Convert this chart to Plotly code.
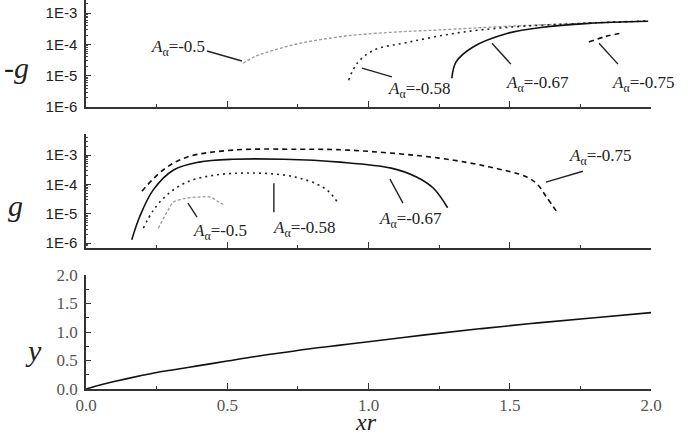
import plotly.graph_objects as go

# ---------------- data ----------------
# top panel: -g (log)
top_x_05 = [0.556, 0.60, 0.64, 0.75, 0.92, 1.10, 1.25, 1.49, 1.75, 1.99]
top_v_05 = [2.5e-5, 4.2e-5, 5.6e-5, 1.05e-4, 1.86e-4, 2.5e-4, 2.9e-4, 3.8e-4, 4.7e-4, 5.6e-4]
top_x_058 = [0.93, 0.96, 1.02, 1.14, 1.31, 1.49, 1.75, 1.99]
top_v_058 = [7.2e-6, 2.5e-5, 6.6e-5, 1.17e-4, 2.3e-4, 3.5e-4, 4.7e-4, 5.6e-4]
top_x_067 = [1.295, 1.31, 1.37, 1.49, 1.61, 1.78, 1.99]
top_v_067 = [8.3e-6, 2.75e-5, 8.3e-5, 2.24e-4, 3.47e-4, 4.7e-4, 5.5e-4]
top_x_075 = [1.78, 1.84, 1.90]
top_v_075 = [1.2e-4, 1.8e-4, 2.35e-4]

# middle panel: g (log)
mid_x_05 = [0.256, 0.29, 0.31, 0.357, 0.40, 0.44, 0.47, 0.49]
mid_v_05 = [3.2e-6, 1.3e-5, 2.5e-5, 3.4e-5, 3.7e-5, 3.7e-5, 2.5e-5, 2.0e-5]
mid_x_058 = [0.203, 0.238, 0.286, 0.357, 0.46, 0.58, 0.70, 0.76, 0.82, 0.86, 0.89]
mid_v_058 = [3.2e-6, 1.3e-5, 4.3e-5, 1.2e-4, 2.1e-4, 2.45e-4, 2.1e-4, 1.6e-4, 1.0e-4, 5.6e-5, 2.5e-5]
mid_x_067 = [0.162, 0.19, 0.238, 0.31, 0.40, 0.52, 0.70, 0.90, 1.08, 1.17, 1.23, 1.28]
mid_v_067 = [1.3e-6, 7.9e-6, 6.5e-5, 3.1e-4, 5.75e-4, 7.2e-4, 7.2e-4, 5.75e-4, 3.6e-4, 1.8e-4, 7.4e-5, 1.6e-5]
mid_x_075 = [0.198, 0.273, 0.357, 0.52, 0.76, 0.93, 1.25, 1.43, 1.56, 1.60, 1.63, 1.67]
mid_v_075 = [5.9e-5, 3.1e-4, 8.5e-4, 1.48e-3, 1.58e-3, 1.48e-3, 7.9e-4, 3.9e-4, 1.8e-4, 9.5e-5, 3.7e-5, 1.05e-5]

# bottom panel: y (linear)
bot_x = [0, 0.05, 0.1, 0.2, 0.25, 0.3, 0.4, 0.5, 0.6, 0.7, 0.8, 0.9, 1.0, 1.2, 1.4, 1.6, 1.8, 2.0]
bot_y = [0, 0.07, 0.13, 0.24, 0.29, 0.33, 0.41, 0.49, 0.57, 0.64, 0.71, 0.77, 0.83, 0.95, 1.06, 1.16, 1.25, 1.34]

log_ticks = [1e-6, 1e-5, 1e-4, 1e-3]
log_tick_text = ["1E-6", "1E-5", "1E-4", "1E-3"]
lin_ticks = [0.0, 0.5, 1.0, 1.5, 2.0]
lin_tick_text = ["0.0", "0.5", "1.0", "1.5", "2.0"]

labels = ["-0.5", "-0.58", "-0.67", "-0.75"]

# annotation positions (x, log10 y) for labels and leader lines
top_lbl = [(0.325, -4.12), (1.18, -5.45), (1.597, -5.28), (1.975, -5.28)]
top_lead = [((0.428, -4.21), (0.552, -4.53)), ((0.977, -4.76), (1.083, -5.04)),
            ((1.437, -3.96), (1.504, -4.63)), ((1.816, -3.96), (1.883, -4.63))]
mid_lbl = [(0.474, -5.62), (0.772, -5.52), (1.150, -5.2), (1.82, -3.05)]
mid_lead = [((0.361, -4.64), (0.393, -5.12)), ((0.665, -3.96), (0.665, -4.95)),
            ((1.076, -3.82), (1.122, -4.64)), ((1.628, -3.92), (1.759, -3.55))]

# ---------------- figure ----------------
fig = go.Figure()

styles = [dict(color="#9a9a9a", width=1.3, dash="3px,2px"),
          dict(color="#222", width=1.6, dash="2px,4px"),
          dict(color="#111", width=1.6),
          dict(color="#111", width=1.6, dash="5px,4px")]

tops = [(top_x_05, top_v_05), (top_x_058, top_v_058), (top_x_067, top_v_067), (top_x_075, top_v_075)]
mids = [(mid_x_05, mid_v_05), (mid_x_058, mid_v_058), (mid_x_067, mid_v_067), (mid_x_075, mid_v_075)]

for (xs, vs), st in zip(tops, styles):
    fig.add_trace(go.Scatter(x=xs, y=vs, mode="lines", line=dict(shape="spline", **st),
                             xaxis="x", yaxis="y", showlegend=False))
for (xs, vs), st in zip(mids, styles):
    fig.add_trace(go.Scatter(x=xs, y=vs, mode="lines", line=dict(shape="spline", **st),
                             xaxis="x2", yaxis="y2", showlegend=False))
fig.add_trace(go.Scatter(x=bot_x, y=bot_y, mode="lines", line=dict(color="#111", width=1.6, shape="spline"),
                         xaxis="x3", yaxis="y3", showlegend=False))

# leader lines
for (p0, p1) in top_lead:
    fig.add_trace(go.Scatter(x=[p0[0], p1[0]], y=[10 ** p0[1], 10 ** p1[1]], mode="lines",
                             line=dict(color="#222", width=1.4), xaxis="x", yaxis="y", showlegend=False))
for (p0, p1) in mid_lead:
    fig.add_trace(go.Scatter(x=[p0[0], p1[0]], y=[10 ** p0[1], 10 ** p1[1]], mode="lines",
                             line=dict(color="#222", width=1.4), xaxis="x2", yaxis="y2", showlegend=False))

serif = "Liberation Serif, serif"
sans = "Liberation Sans, sans-serif"
ann = []
for (x, ly), lab in zip(top_lbl, labels):
    ann.append(dict(x=x, y=ly, xref="x", yref="y", showarrow=False, xanchor="center", yanchor="middle",
                    text=f"<i>A</i><sub>α</sub>={lab}", font=dict(family=serif, size=17, color="#222")))
for (x, ly), lab in zip(mid_lbl, labels):
    ann.append(dict(x=x, y=ly, xref="x2", yref="y2", showarrow=False, xanchor="center", yanchor="middle",
                    text=f"<i>A</i><sub>α</sub>={lab}", font=dict(family=serif, size=17, color="#222")))

# axis titles
W, H, L, R, T, B = 692, 435, 86, 41, 0, 46
pw, ph = W - L - R, H - T - B
def px(xp):
    return (xp - L) / pw
def py(yp):
    return (H - B - yp) / ph
for txt, xx, yy, sz in [("-g", 16, 67, 30), ("g", 15, 205, 30), ("y", 33, 350, 30)]:
    ann.append(dict(x=px(xx), y=py(yy), xref="paper", yref="paper", showarrow=False,
                    xanchor="center", yanchor="middle",
                    text=f"<i>{txt}</i>", font=dict(family=serif, size=sz, color="#222")))
ann.append(dict(x=px(366), y=py(436), xref="paper", yref="paper", showarrow=False,
                xanchor="center", yanchor="bottom", borderpad=0,
                text="<i>xr</i>", font=dict(family=serif, size=24, color="#222")))

minor_log = [k * 10 ** e for e in range(-7, -1) for k in range(2, 10)]

xcommon = dict(range=[0, 2.0], showline=True, linecolor="#333", linewidth=1.5, ticks="inside",
               ticklen=6, tickwidth=1.3, tickcolor="#333", showgrid=False, automargin=False,
               zeroline=False, minor=dict(ticks="inside", ticklen=3, dtick=0.25, tickcolor="#333", showgrid=False))
ylog = dict(type="log", showline=True, linecolor="#333", linewidth=1.5, ticks="inside", ticklen=5,
            tickwidth=1.3, tickcolor="#333", tickmode="array", tickvals=log_ticks, ticktext=log_tick_text,
            showgrid=False, zeroline=False, automargin=False, ticklabelstandoff=4,
            tickfont=dict(family=sans, size=15, color="#222"),
            minor=dict(ticks="inside", ticklen=2.5, tickmode="array", tickvals=minor_log, tickcolor="#444", showgrid=False))

fig.update_layout(
    width=W, height=H, margin=dict(l=L, r=R, t=T, b=B, autoexpand=False),
    paper_bgcolor="white", plot_bgcolor="white",
    xaxis=dict(anchor="y", showticklabels=False, tickmode="array", tickvals=lin_ticks, **xcommon),
    xaxis2=dict(anchor="y2", showticklabels=False, matches="x", tickmode="array", tickvals=lin_ticks, **xcommon),
    xaxis3=dict(anchor="y3", showticklabels=True, matches="x", tickmode="array", tickvals=lin_ticks,
                ticktext=lin_tick_text, ticklabelstandoff=0,
                tickfont=dict(family=serif, size=17, color="#555"), **xcommon),
    yaxis=dict(domain=[0.725, 1.0], range=[-6, -2.58], anchor="x", **ylog),
    yaxis2=dict(domain=[0.3625, 0.6555], range=[-6.17, -2.28], anchor="x2", **ylog),
    yaxis3=dict(domain=[0, 0.293], range=[0, 2.0], anchor="x3", showline=True, linecolor="#333",
                linewidth=1.5, ticks="inside", ticklen=5, tickwidth=1.3, tickcolor="#333", automargin=False,
                tickmode="array", tickvals=lin_ticks, ticktext=lin_tick_text, showgrid=False, zeroline=False,
                ticklabelstandoff=3, tickfont=dict(family=serif, size=17, color="#555"),
                minor=dict(ticks="inside", ticklen=3, dtick=0.25, tickcolor="#333", showgrid=False)),
    annotations=ann,
)

fig.write_html("out.html")
